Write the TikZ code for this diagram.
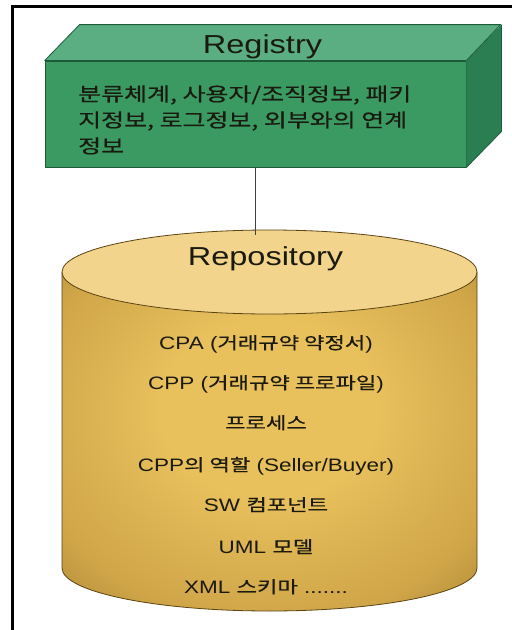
\documentclass[tikz,border=0pt]{standalone}
\usepackage{fontspec}
\setmainfont[FakeStretch=1.25]{Liberation Sans}
\newfontfamily\krfont[FakeStretch=1.32, FakeBold=0.6]{Noto Sans CJK KR}
% Korean run inside a Latin line
\newcommand\kr[1]{{\krfont\fontsize{16.8}{18}\selectfont #1}}
\definecolor{boxfront}{HTML}{3A9A62}
\definecolor{boxtop}{HTML}{5BAE82}
\definecolor{boxside}{HTML}{2B7D52}
\definecolor{boxedge}{HTML}{1D5A38}
\definecolor{capcol}{HTML}{F3D48C}
\definecolor{drumdark}{HTML}{86661F}
\definecolor{drummid}{HTML}{CFA548}
\definecolor{drumlight}{HTML}{E8C05C}
\definecolor{drumedge}{HTML}{5A4412}
\definecolor{ink}{HTML}{1A1A10}
% golden body of the drum: bright centre, darker rim
\pgfdeclareradialshading{drumbody}{\pgfpoint{0bp}{6bp}}{%
  color(0bp)=(drumlight); color(13bp)=(drumlight); color(30bp)=(drummid); color(48bp)=(drumdark); color(70bp)=(drumdark)}
\tikzset{
  face/.style={draw=boxedge, line width=0.8pt, line join=round},
  title/.style={anchor=base, inner sep=0pt, text=ink, font=\fontsize{26}{30}\selectfont},
  regline/.style={anchor=base west, inner sep=0pt, text=ink, font=\krfont\fontsize{18.9}{22}\selectfont},
  item/.style={anchor=base, inner sep=0pt, text=ink, font=\fontsize{18}{20}\selectfont},
}
\begin{document}
\begin{tikzpicture}[x=1pt, y=-1pt]
\useasboundingbox (0,0) rectangle (512,630);
\fill[white] (0,0) rectangle (512,630);
% outer frame
\draw[line width=3pt] (12,640) -- (12,6) -- (520,6);

% registry block
\node[face, fill=boxfront, minimum width=421pt, minimum height=106pt, inner sep=0pt] (reg) at (255.5,114) {};
\fill[boxtop] (reg.north west) -- ++(35,-36) -- ++(421,0) -- (reg.north east) -- cycle;
\fill[boxside] (reg.north east) -- ++(35,-36) -- ++(0,107) -- (reg.south east) -- cycle;
\draw[face] (reg.north west) -- ++(35,-36) -- ++(421,0) -- (reg.north east)
            ++(35,-36) -- ++(0,107) -- (reg.south east);
\draw[boxedge, line width=1.2pt] (reg.north west) -- (reg.north east);
\node[title] (regtitle) at (262.5,53) {Registry};
\node[regline] (reg1) at (78,101) {분류체계, 사용자/조직정보, 패키};
\node[regline] (reg2) at (78,127) {지정보, 로그정보, 외부와의 연계};
\node[regline] (reg3) at (78,153) {정보};

% repository drum
\path[shading=drumbody]
  (62,272) -- (62,568) arc (180:0:207.5 and 43) -- (477,272) -- cycle;
\draw[drumedge, line width=0.8pt] (62,272) -- (62,568) arc (180:0:207.5 and 43) -- (477,272);
\filldraw[fill=capcol, draw=drumedge, line width=0.8pt] (269.5,272) ellipse (207.5 and 42);
\coordinate (repotop) at (reg.south |- 0,235);
\node[title] (repotitle) at (265.5,265) {Repository};

% connector
\draw[line width=0.8pt, black!75] (reg.south) -- (repotop);

% repository contents
\node[item] (i1) at (266,349) {CPA (\kr{거래규약 약정서})};
\node[item] (i2) at (266,389) {CPP (\kr{거래규약 프로파일})};
\node[item] (i3) at (266,429) {\kr{프로세스}};
\node[item] (i4) at (266,471) {CPP\kr{의 역할} (Seller/Buyer)};
\node[item] (i5) at (266,511) {SW \kr{컴포넌트}};
\node[item] (i6) at (266,553) {UML \kr{모델}};
\node[item] (i7) at (266,593) {XML \kr{스키마} .......};
\end{tikzpicture}
\end{document}
